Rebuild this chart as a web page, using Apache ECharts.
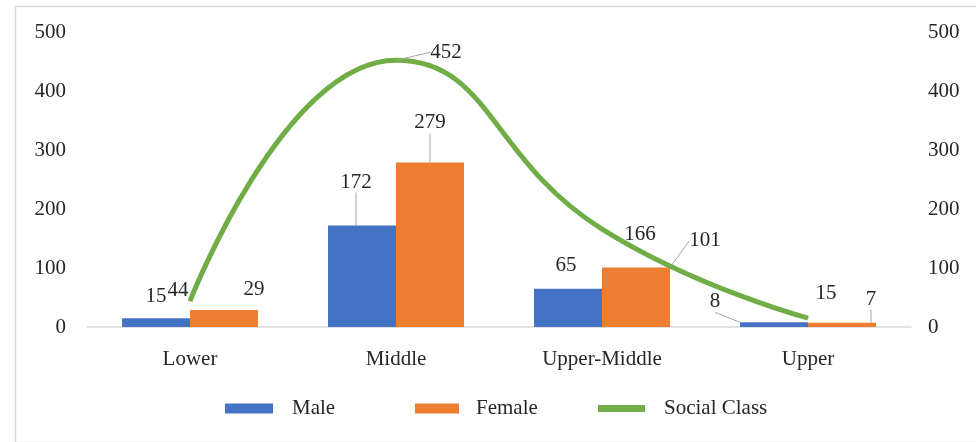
<!DOCTYPE html>
<html>
<head>
<meta charset="utf-8">
<script src="https://cdn.jsdelivr.net/npm/echarts@6/dist/echarts.min.js"></script>
<style>html,body{margin:0;padding:0;background:#fff}#c{width:976px;height:442px}</style>
</head>
<body>
<div id="c"></div>
<script>
const categories = ['Lower', 'Middle', 'Upper-Middle', 'Upper'];
const maleValues = [15, 172, 65, 8];
const femaleValues = [29, 279, 101, 7];
const socialClassValues = [44, 452, 166, 15];
const yTicks = [0, 100, 200, 300, 400, 500];

// label offsets (dx, dy) and whether to draw a leader line, per series
const labelOffsets = [
  [[0, -6, false], [-6, -28, true], [-2, -8, false], [-59, -5, true]],
  [[30, -5, false], [0, -24, true], [69, -11, true], [29, -8, true]],
  [[-12, 5, false], [50, 8, true], [38, 21, false], [18, -9, false]]
];

const FONT = 'Liberation Serif';
const txt = { fontFamily: FONT, fontSize: 21, color: '#262626' };

function mkData(vals, si) {
  return vals.map((v, i) => ({ value: v, labelLine: { show: labelOffsets[si][i][2] } }));
}

const chart = echarts.init(document.getElementById('c'));
chart.setOption({
  animation: false,
  graphic: [{
    type: 'rect', left: 13, top: 4, z: -1,
    shape: { width: 1000, height: 436 },
    style: { fill: 'none', stroke: '#d9d9d9', lineWidth: 1.5 }
  }],
  grid: { left: 87, right: 65, top: 32, bottom: 115 },
  legend: [
    { data: [{ name: 'Male', icon: 'rect' }], left: 220, top: 393, itemWidth: 48, itemHeight: 10,
      textStyle: Object.assign({}, txt, { padding: [0, 0, 0, 14] }) },
    { data: [{ name: 'Female', icon: 'rect' }], left: 410, top: 393, itemWidth: 44, itemHeight: 10,
      textStyle: Object.assign({}, txt, { padding: [0, 0, 0, 12] }) },
    { data: [{ name: 'Social Class', icon: 'rect' }], left: 593, top: 393, itemWidth: 47, itemHeight: 7,
      itemStyle: { color: '#70AD47' },
      textStyle: Object.assign({}, txt, { padding: [0, 0, 0, 14] }) }
  ],
  xAxis: {
    type: 'category', data: categories,
    axisLine: { lineStyle: { color: '#d9d9d9', width: 1.5 } },
    axisTick: { show: false },
    axisLabel: Object.assign({}, txt, { margin: 22 })
  },
  yAxis: [
    { type: 'value', min: yTicks[0], max: yTicks[yTicks.length - 1], interval: 100,
      splitLine: { show: false }, axisLine: { show: false }, axisTick: { show: false },
      axisLabel: Object.assign({}, txt, { margin: 21 }) },
    { type: 'value', min: yTicks[0], max: yTicks[yTicks.length - 1], interval: 100, position: 'right',
      splitLine: { show: false }, axisLine: { show: false }, axisTick: { show: false },
      axisLabel: Object.assign({}, txt, { margin: 17 }) }
  ],
  series: [
    { name: 'Male', type: 'bar', data: mkData(maleValues, 0), itemStyle: { color: '#4472C4' },
      barGap: '0%', barCategoryGap: '34%',
      label: Object.assign({ show: true, position: 'top', distance: 5 }, txt),
      labelLine: { lineStyle: { color: '#a6a6a6', width: 1 } },
      labelLayout: p => ({ dx: labelOffsets[0][p.dataIndex][0], dy: labelOffsets[0][p.dataIndex][1] }) },
    { name: 'Female', type: 'bar', data: mkData(femaleValues, 1), itemStyle: { color: '#ED7D31' },
      barGap: '0%', barCategoryGap: '34%',
      label: Object.assign({ show: true, position: 'top', distance: 5 }, txt),
      labelLine: { lineStyle: { color: '#a6a6a6', width: 1 } },
      labelLayout: p => ({ dx: labelOffsets[1][p.dataIndex][0], dy: labelOffsets[1][p.dataIndex][1] }) },
    { name: 'Social Class', type: 'line', yAxisIndex: 1, data: mkData(socialClassValues, 2), smooth: 0.5,
      symbol: 'circle', symbolSize: 1, itemStyle: { color: '#70AD47' },
      lineStyle: { color: '#70AD47', width: 5 }, z: 5,
      label: Object.assign({ show: true, position: 'top', distance: 5 }, txt),
      labelLine: { lineStyle: { color: '#a6a6a6', width: 1 } },
      labelLayout: p => ({ dx: labelOffsets[2][p.dataIndex][0], dy: labelOffsets[2][p.dataIndex][1] }) }
  ]
});
</script>
</body>
</html>
